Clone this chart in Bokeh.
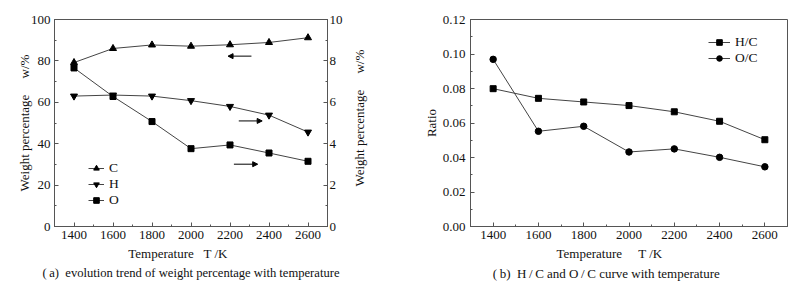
import math
from bokeh.plotting import figure
from bokeh.models import (Range1d, LinearAxis, Arrow, NormalHead, Legend,
                          LegendItem, SingleIntervalTicker, Title, NumeralTickFormatter)
from bokeh.layouts import row
from bokeh.embed import file_html
from bokeh.resources import INLINE

# ---------------- data ----------------
temperature = [1400, 1600, 1800, 2000, 2200, 2400, 2600]
c_weight = [79.2, 86.0, 87.7, 87.1, 87.8, 88.9, 91.2]      # left axis, %
h_weight = [6.30, 6.35, 6.30, 6.08, 5.80, 5.38, 4.56]      # right axis, %
o_weight = [7.66, 6.28, 5.07, 3.76, 3.94, 3.55, 3.15]      # right axis, %
hc_ratio = [0.0799, 0.0743, 0.0722, 0.0701, 0.0665, 0.0610, 0.0503]
oc_ratio = [0.0969, 0.0552, 0.0581, 0.0432, 0.0450, 0.0401, 0.0346]

FONT = "Liberation Serif"
LINE = "#444444"
AX = "#555555"
TXT = "#111111"
SP = "\u00a0"
TH = "\u2009"
YLABEL = "Weight percentage" + SP * 5 + "w/%"


def style_axis(ax, major, minor_n):
    ax.ticker = SingleIntervalTicker(interval=major, num_minor_ticks=minor_n)
    ax.axis_line_color = AX
    ax.major_tick_line_color = AX
    ax.minor_tick_line_color = AX
    ax.major_tick_in = 4
    ax.major_tick_out = 0
    ax.minor_tick_in = 2
    ax.minor_tick_out = 0
    ax.major_label_text_font = FONT
    ax.major_label_text_font_size = "13px"
    ax.major_label_text_color = TXT
    ax.major_label_standoff = 4
    ax.axis_label_text_font = FONT
    ax.axis_label_text_font_size = "13px"
    ax.axis_label_text_font_style = "normal"
    ax.axis_label_text_color = TXT
    ax.axis_label_standoff = 4


def caption(p, text, size="13px"):
    p.add_layout(Title(text=text, align="center", text_font=FONT,
                       text_font_size=size, text_font_style="normal",
                       text_color=TXT, standoff=0), "below")


# ---------------- left figure ----------------
pa = figure(width=347, height=289, output_backend="svg", toolbar_location=None,
            x_range=Range1d(1300, 2700), y_range=Range1d(0, 100),
            min_border_left=54, min_border_right=20,
            min_border_top=19, min_border_bottom=61)
pa.extra_y_ranges = {"r": Range1d(0, 10)}
pa.grid.visible = False
pa.outline_line_color = AX
style_axis(pa.xaxis[0], 200, 2)
style_axis(pa.yaxis[0], 20, 2)
pa.yaxis[0].axis_label_standoff = -4
ra = LinearAxis(y_range_name="r")
style_axis(ra, 2, 2)
ra.major_label_standoff = 2
pa.add_layout(ra, "right")

pa.xaxis[0].axis_label = "Temperature" + SP * 3 + "T /K" + SP * 8
pa.yaxis[0].axis_label = YLABEL

lc = pa.line(temperature, c_weight, line_color=LINE, line_width=1)
sc = pa.scatter(temperature, c_weight, marker="triangle", size=7, color="black")
lh = pa.line(temperature, h_weight, y_range_name="r", line_color=LINE, line_width=1)
sh = pa.scatter(temperature, h_weight, y_range_name="r", marker="inverted_triangle",
                size=7, color="black")
lo = pa.line(temperature, o_weight, y_range_name="r", line_color=LINE, line_width=1)
so = pa.scatter(temperature, o_weight, y_range_name="r", marker="square", size=6,
                color="black")

leg_a = Legend(items=[LegendItem(label="C", renderers=[lc, sc]),
                      LegendItem(label="H", renderers=[lh, sh]),
                      LegendItem(label="O", renderers=[lo, so])],
               location=(34, 18), glyph_width=16, glyph_height=14,
               label_height=14, label_standoff=5, spacing=-4, padding=0, margin=0,
               border_line_color=None, background_fill_alpha=0,
               label_text_font=FONT, label_text_font_size="13.5px",
               label_text_color=TXT)
pa.add_layout(leg_a)

# arrows pointing towards the axis each curve is read against (data coords)
arrow_x0 = [2310, 2245, 2220]
arrow_x1 = [2190, 2365, 2342]
arrow_y = [82.3, 51.0, 30.1]
for x0, x1, y in zip(arrow_x0, arrow_x1, arrow_y):
    pa.add_layout(Arrow(end=NormalHead(size=5, fill_color="black", line_color="black"),
                        x_start=x0, y_start=y, x_end=x1, y_end=y,
                        line_color="black", line_width=1))

caption(pa, "(" + TH + "a)" + SP * 2 +
        "evolution trend of weight percentage with temperature", size="12.6px")

# narrow strip carrying the right-hand axis title (reads bottom to top)
pr = figure(width=53, height=289, output_backend="svg", toolbar_location=None,
            x_range=Range1d(0, 1), y_range=Range1d(0, 1),
            min_border_left=19, min_border_right=0,
            min_border_top=19, min_border_bottom=61)
pr.axis.visible = False
pr.grid.visible = False
pr.outline_line_color = None
pr.add_layout(Title(text=SP * 3 + YLABEL, align="center", text_font=FONT,
                    text_font_size="13px", text_font_style="normal",
                    text_color=TXT, standoff=0), "left")

# ---------------- right figure ----------------
pb = figure(width=402, height=289, output_backend="svg", toolbar_location=None,
            x_range=Range1d(1300, 2700), y_range=Range1d(0, 0.12),
            min_border_left=70, min_border_right=15,
            min_border_top=17, min_border_bottom=63)
pb.grid.visible = False
pb.outline_line_color = AX
style_axis(pb.xaxis[0], 200, 2)
style_axis(pb.yaxis[0], 0.02, 2)
pb.yaxis[0].formatter = NumeralTickFormatter(format="0.00")
pb.yaxis[0].major_label_standoff = 5
pb.yaxis[0].axis_label_standoff = 1
pb.yaxis[0].axis_label = "Ratio"
pb.xaxis[0].axis_label = "Temperature" + SP * 5 + "T /K" + SP * 12

l1 = pb.line(temperature, hc_ratio, line_color=LINE, line_width=1)
s1 = pb.scatter(temperature, hc_ratio, marker="square", size=6, color="black")
l2 = pb.line(temperature, oc_ratio, line_color=LINE, line_width=1)
s2 = pb.scatter(temperature, oc_ratio, marker="circle", size=6.5, color="black")

leg_b = Legend(items=[LegendItem(label="H/C", renderers=[l1, s1]),
                      LegendItem(label="O/C", renderers=[l2, s2])],
               location=(238, 160), glyph_width=22, glyph_height=14,
               label_height=14, label_standoff=5, spacing=-4, padding=0, margin=0,
               border_line_color=None, background_fill_alpha=0,
               label_text_font=FONT, label_text_font_size="13.5px",
               label_text_color=TXT)
pb.add_layout(leg_b)

caption(pb, "(" + TH + "b)" + SP * 2 + "H" + TH + "/" + TH + "C and O" + TH + "/" + TH +
        "C curve with temperature" + SP * 14)

layout = row(pa, pr, pb)
open("out.html", "w").write(file_html(layout, INLINE))
